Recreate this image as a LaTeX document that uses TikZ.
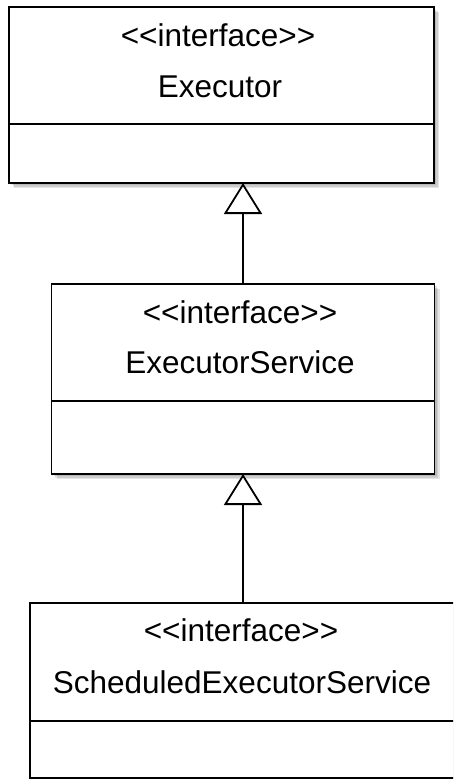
\documentclass[tikz,border=0pt]{standalone}
\usepackage{fontspec}
\setmainfont{Liberation Sans}
\usetikzlibrary{arrows.meta}
\tikzset{
  umlbox/.style={draw=black, fill=white, line width=1.8pt, rectangle, outer sep=0pt, inner sep=0pt},
  umltext/.style={inner sep=0pt, anchor=center, font=\fontsize{31.5}{36}\selectfont},
  realize/.style={line width=1.8pt, draw=black,
    -{Triangle[fill=white, width=38pt, length=31pt, line join=miter]}},
  boxshadow/.style={fill=black, opacity=0.10, draw=none},
}
\newcommand{\stereo}{<\kern0pt<interface>\kern0pt>}
\begin{document}
\begin{tikzpicture}[x=1pt, y=-1pt]
  \useasboundingbox (0,0) rectangle (453,779);
  \fill[white] (0,0) rectangle (453,779);
  \clip (0,0) rectangle (453,779);

  % soft drop shadows behind the class boxes
  \foreach \d in {2,3.5,5}{
    \fill[boxshadow] (9+\d,7+\d) rectangle (434+\d,183+\d);
    \fill[boxshadow] (51.5+\d,284+\d) rectangle (434.5+\d,474+\d);
    \fill[boxshadow] (30+\d,603+\d) rectangle (456+\d,778+\d);
  }

  % Executor
  \node[umlbox, minimum width=425pt, minimum height=176pt] (exec) at (221.5,95) {};
  \draw[line width=1.8pt] ([yshift=59pt]exec.south west) -- ([yshift=59pt]exec.south east);
  \node[umltext] (execst) at (218,35) {\stereo};
  \node[umltext] (execnm) at (220,87) {Executor};

  % ExecutorService
  \node[umlbox, minimum width=383pt, minimum height=190pt] (svc) at (243,379) {};
  \draw[line width=1.8pt] ([yshift=73pt]svc.south west) -- ([yshift=73pt]svc.south east);
  \node[umltext] (svcst) at (240,312) {\stereo};
  \node[umltext] (svcnm) at (240,362) {ExecutorService};

  % ScheduledExecutorService
  \node[umlbox, minimum width=426pt, minimum height=175pt] (sched) at (243,690.5) {};
  \draw[line width=1.8pt] ([yshift=57pt]sched.south west) -- ([yshift=57pt]sched.south east);
  \node[umltext] (schedst) at (241,630) {\stereo};
  \node[umltext] (schednm) at (242,682) {ScheduledExecutorService};

  % generalisation arrows
  \draw[realize] (svc.north) -- (svc.north |- exec.south);
  \draw[realize] (sched.north) -- (sched.north |- svc.south);
\end{tikzpicture}
\end{document}
